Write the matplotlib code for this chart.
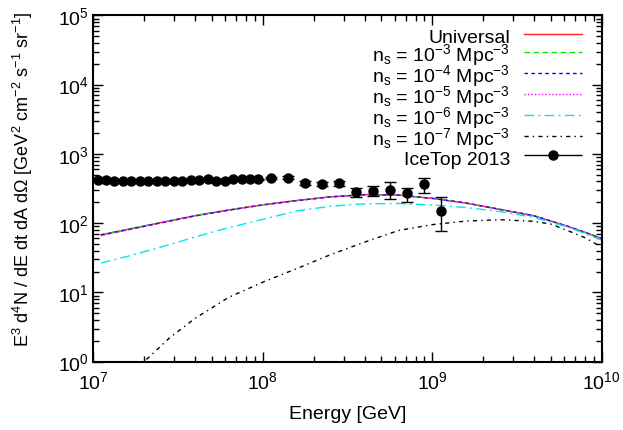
import numpy as np
import matplotlib
matplotlib.use("Agg")
import matplotlib.pyplot as plt
from matplotlib.legend_handler import HandlerErrorbar

plt.rcParams['font.family'] = ['Liberation Sans', 'DejaVu Sans']
plt.rcParams['mathtext.fontset'] = 'custom'
plt.rcParams['mathtext.rm'] = 'Liberation Sans'
plt.rcParams['mathtext.it'] = 'Liberation Sans'
plt.rcParams['mathtext.default'] = 'regular'

# IceTop 2013 points (log10 E/GeV) and flux
icetop_logE = [7.025, 7.075, 7.125, 7.175, 7.225, 7.275, 7.325, 7.375, 7.425, 7.475,
               7.525, 7.575, 7.625, 7.675, 7.725, 7.775, 7.825, 7.875, 7.925, 7.975,
               8.05, 8.15, 8.25, 8.35, 8.45, 8.55, 8.65, 8.75, 8.85, 8.95, 9.05]
icetop_flux = [418, 414, 408, 404, 400, 400, 402, 404, 406, 410,
               412, 414, 418, 431, 400, 408, 436, 436, 436, 427,
               446, 455, 378, 365, 378, 277, 292, 299, 268, 365, 151]
icetop_lo = [410, 406, 400, 396, 392, 392, 394, 396, 398, 402,
             404, 406, 410, 422, 391, 399, 426, 425, 424, 414,
             430, 436, 356, 340, 348, 235, 248, 220, 201, 274, 77]
icetop_hi = [426, 422, 416, 412, 408, 408, 410, 412, 414, 418,
             420, 422, 426, 440, 409, 417, 446, 447, 448, 440,
             462, 474, 400, 390, 408, 317, 345, 387, 320, 446, 240]

# model curves
model_logE = [7.045, 7.2, 7.4, 7.6, 7.8, 8.0, 8.2, 8.4, 8.6, 8.8,
              9.0, 9.2, 9.4, 9.6, 9.8, 9.9, 10.0]
universal = [68, 81, 102, 128, 155, 184, 212, 240, 258, 254,
             228, 195, 158, 128, 90, 74, 60]
ns_1e3 = [68, 81, 102, 128, 155, 184, 212, 240, 258, 254,
          228, 195, 158, 128, 90, 74, 60]
ns_1e4 = [67, 80, 101, 127, 154, 183, 211, 239, 257, 254,
          228, 195, 158, 128, 90, 74, 60]
ns_1e5 = [66, 79, 100, 126, 153, 182, 210, 238, 256, 253,
          227, 194, 157, 127, 89, 73, 59]
ns_1e6 = [26.5, 33, 45, 63, 86, 113, 150, 175, 190, 192,
          183, 168, 147, 121, 88, 71, 57]

ns7_logE = [7.25, 7.3, 7.45, 7.6, 7.8, 8.0, 8.2, 8.4, 8.6, 8.8,
            9.0, 9.2, 9.4, 9.6, 9.7, 9.8, 9.9, 10.0]
ns_1e7 = [0.8, 1.0, 2.2, 4.2, 8.5, 14, 22, 35, 53, 78,
          95, 107, 112, 106, 97, 78, 62, 45]

fig = plt.figure(figsize=(6.23, 4.31), dpi=100)
ax = fig.add_axes([0.1498, 0.1587, 0.8157, 0.8033])

E = 10**np.array(model_logE)
lw = 1.0
ax.plot(E, universal, color='#ff2020', lw=lw, label='Universal')
ax.plot(E, ns_1e3, color='#00ee00', lw=lw, dashes=(4, 2.5),
        label=r'n$_s$ = 10$^{-3}$ Mpc$^{-3}$')
ax.plot(E, ns_1e4, color='#0000ff', lw=lw, dashes=(2.5, 2.5),
        label=r'n$_s$ = 10$^{-4}$ Mpc$^{-3}$')
ax.plot(E, ns_1e5, color='#ff00ff', lw=lw, dashes=(1, 1.5),
        label=r'n$_s$ = 10$^{-5}$ Mpc$^{-3}$')
ax.plot(E, ns_1e6, color='#00e8e8', lw=lw, dashes=(7, 3, 1.5, 3),
        label=r'n$_s$ = 10$^{-6}$ Mpc$^{-3}$')
ax.plot(10**np.array(ns7_logE), ns_1e7, color='black', lw=lw, dashes=(3, 3, 1, 3),
        label=r'n$_s$ = 10$^{-7}$ Mpc$^{-3}$')

Ei = 10**np.array(icetop_logE)
flux = np.array(icetop_flux)
yerr = [flux - np.array(icetop_lo), np.array(icetop_hi) - flux]
ax.errorbar(Ei, flux, yerr=yerr, fmt='o', color='black', ms=6.5,
            elinewidth=1, capsize=4, capthick=1)
# legend proxy drawn gnuplot style (horizontal bar)
proxy = ax.errorbar(np.array([]), np.array([]), xerr=np.array([]), fmt='o',
                    color='black', ms=6.5, elinewidth=1, capsize=7, capthick=1,
                    label='IceTop 2013')

ax.set_xscale('log')
ax.set_yscale('log')
ax.set_xlim(1e7, 1e10)
ax.set_ylim(1, 1e5)

ax.tick_params(which='both', direction='in', top=True, right=True, labelsize=14)
ax.tick_params(which='major', length=7, width=1)
ax.tick_params(which='minor', length=4, width=1)
ax.tick_params(axis='x', pad=6)
ax.tick_params(axis='y', pad=3)
for s in ax.spines.values():
    s.set_linewidth(1.5)

ax.set_xlabel('Energy [GeV]', fontsize=14)
ax.set_ylabel(r'E$^3$ d$^4$N / dE dt dA dΩ [GeV$^2$ cm$^{-2}$ s$^{-1}$ sr$^{-1}$]',
              fontsize=13)
ax.xaxis.set_label_coords(0.5, -0.125)
ax.yaxis.set_label_coords(-0.115, 0.53)

hl = 3.0
leg = ax.legend(loc='upper right', bbox_to_anchor=(0.962, 0.972), frameon=False,
                fontsize=14, markerfirst=False, handlelength=hl, handletextpad=0.7,
                handleheight=1.3, labelspacing=-0.25, borderaxespad=0.0,
                borderpad=0.0,
                handler_map={proxy: HandlerErrorbar(xerr_size=hl / 2)})

fig.savefig('out.png', dpi=100)
